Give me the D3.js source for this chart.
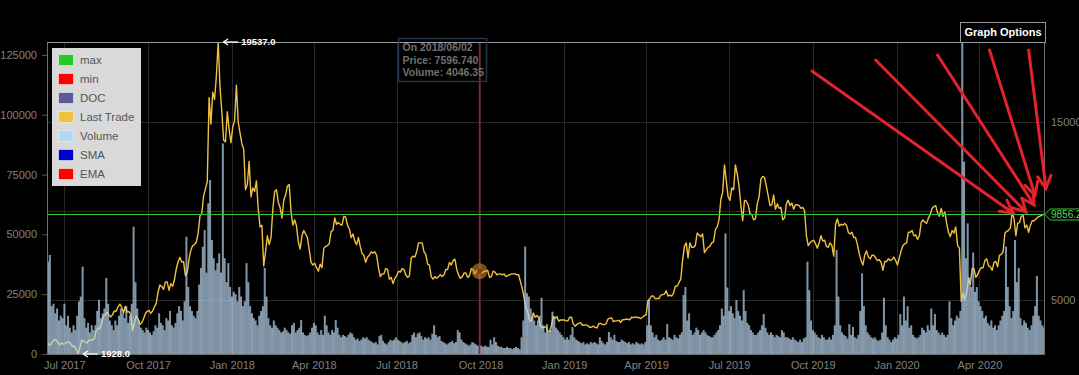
<!DOCTYPE html>
<html><head><meta charset="utf-8">
<script src="https://cdn.jsdelivr.net/npm/d3@7"></script>
<style>
html,body{margin:0;padding:0;background:#000;overflow:hidden}
svg{display:block;font-family:"Liberation Sans",Arial,sans-serif}
</style></head><body>
<svg id="chart" width="1079" height="375"></svg>
<script>
// ---- data (2-day samples from 2017-06-12) ----
const startDate = "2017-06-12";
const endDate = "2020-06-12";
const stepDays = 2;

const price2017 = [
 2650,2440,2450,2610,2750,2700,2580,2440,2560,2480, // Jun
 2500,2600,2610,2510,2350,2390,2200,1928,2260,2700,2650,2600,2550,2700,2700, // Jul
 2720,2780,3230,3390,3340,3650,4060,4160,4290,4130,4020,4150,4360,4340,4590,4740, // Aug
 4580,4240,4620,4300,4320,4170,3250,3690,4080,3900,3600,3680,3920,4200,4340, // Sep
 4390,4220,4360,4600,4780,5430,5820,5740,5580,6000,6000,5520,5900,5750,6130, // Oct
 6740,7150,7380,7120,7140,6350,6540,7290,7790,8050,8100,8250,8750,9720,9870, // Nov
 10850,11250,11650,16400,14900,16700,16300,17600,19537,17000,15600,14000,13900,15600,14600,13850 // Dec
];
const price2018 = [
 14750,15100,17100,15000,14400,13800,13500,11200,11500,12800,10800,11300,11100,11700,10100, // Jan
 9100,9200,6900,7700,8600,8100,8500,10100,11100,11200,10500,10200,9600,10600, // Feb
 10900,11400,11500,9950,9200,9500,9150,8250,7850,8600,8900,8700,8500,7800,7100,6950, // Mar
 7050,6800,6600,7000,6800,7900,8000,8050,8150,8850,8900,9600,9250,9350,9250, // Apr
 9200,9700,9650,9200,9000,8500,8700,8300,8100,8500,8000,7600,7500,7100,7400, // May
 7500,7700,7620,7700,7500,6800,6300,6450,6450,6750,6700,6150,6250,5900,6200, // Jun
 6350,6600,6550,6750,6700,6400,6250,6350,7350,7450,7400,7700,8200,8200,8200,7700, // Jul
 7550,7000,6950,6300,6150,6300,6200,6300,6400,6300,6400,6700,6700,7100,6950, // Aug
 7200,7280,6700,6400,6200,6280,6500,6500,6250,6350,6750,6700,6450,6650,6600, // Sep
 6600,6500,6600,6600,6650,6250,6300,6600,6550,6400,6450,6450,6400,6450,6300,6350, // Oct
 6400,6450,6450,6450,6400,6400,6000,5600,5100,4500,4300,3800,3800,4250,4000, // Nov
 4100,3950,3500,3400,3450,3450,3200,3200,3550,4050,3950,4050,3780,3850,3850 // Dec
];
const price2019 = [
 3850,3800,3800,4000,4000,3630,3500,3600,3650,3700,3550,3560,3570,3530,3430,3450, // Jan
 3500,3430,3400,3650,3650,3600,3580,3640,3900,3950,3970,3750,3800,3800, // Feb
 3830,3720,3860,3860,3900,3880,3860,4000,3980,4020,3990,3990,3930,4000,4100, // Mar
 4150,4950,5050,5200,5200,5050,5070,5050,5250,5280,5300,5500,5200,5250,5200, // Apr
 5350,5750,5750,5950,6150,7200,8000,8200,7350,8200,7950,7950,8050,8750,8650,8550, // May
 8700,7650,7800,7950,8000,8200,8250,8950,9100,9500,10650,11050,12600,11700,10800, // Jun
 10600,11300,11200,12600,12100,11400,10300,9450,10600,10550,10350,9850,9800,9500,9550, // Jul
 10400,10800,11800,11950,11900,11400,10850,10300,10350,10900,10100,10400,10150,10200,9500,9600, // Aug
 10400,10600,10300,10450,10100,10350,10350,10300,10150,10200,10000,8600,8050,8200,8300, // Sep
 8350,8150,7900,8200,8600,8300,8350,8000,7950,8200,8050,7450,9250,9550,9150, // Oct
 9250,9200,9300,9200,8800,8700,8800,8500,8500,8100,7600,7200,6950,7500,7750, // Nov
 7400,7300,7500,7500,7350,7200,7250,7100,6650,7150,7150,7300,7200,7250,7400,7200 // Dec
];
const price2020 = [
 6950,7350,7750,8050,8150,8200,8800,8800,8900,8600,8650,8400,8600,9350,9500, // Jan
 9380,9300,9600,9800,10150,10250,10300,9900,9700,10150,9700,9950,9300,8800,8550, // Feb
 8900,8750,9100,8050,7900,4900,5350,5000,5400,6200,5850,6750,6750,6250,6400, // Mar
 6650,6800,6800,7200,7300,6900,6850,6650,7100,7150,6850,7500,7550,7700,8750, // Apr
 8850,8900,9050,9950,9550,8600,9300,9350,9700,9750,9050,9200,8800,9200,9450,9450, // May
 9550,9650,9700,9750,9800,9856.2 // Jun
];

const vol2017 = [
 38600,41400,20000,21000,17000,19000,14000,16000,15000,21000,
 12000,16000,11000,9000,12000,10000,16000,22000,24000,36500,15000,11000,13000,9000,12000,
 10000,12000,18000,22600,15000,17000,19000,31800,21000,14000,12000,10000,14000,12000,16000,19000,
 17000,15000,20000,13000,16000,21000,53200,30000,19000,14000,11000,10000,9000,11000,10000,
 9000,8000,9500,12000,11000,17000,13000,12000,10000,15000,14000,18000,12000,11000,13000,
 17000,20000,18000,14000,22000,49000,28000,20000,18000,16000,15000,18000,29000,36000,44800,
 51800,34000,63000,72700,47600,40000,35000,38000,42000,34000,88000,40000,30000,38000,28000,24000
];
const vol2018 = [
 26000,25000,22000,28000,24000,20000,22000,38000,30000,20000,17000,15000,14000,12000,16000,
 18000,20000,36000,24000,15000,12000,11000,14000,12000,11000,10000,9000,9500,11000,
 10000,9000,8500,12000,13000,9000,10000,11000,14200,9000,8000,7500,8000,9000,11000,13000,
 12000,9000,8000,10000,8000,16000,12000,9000,8000,10000,9000,14200,11000,8000,7000,
 8000,7500,7000,8000,9000,8500,7000,6000,6500,5500,6000,7000,6500,7000,6000,
 5500,5000,4500,5000,4000,7500,8000,5500,4500,4000,5000,6000,5500,6000,7000,
 6000,5500,5000,4500,5000,5500,4500,5000,8000,9000,7000,8500,9000,7500,6000,7000,
 6500,7000,6000,8500,12000,8000,7000,7500,5500,5000,4500,4000,4500,5000,5500,
 4500,5000,10000,9000,6000,5000,4500,4000,3500,4000,5000,4500,4000,3500,3500,
 3500,3000,3500,3000,3000,6000,4000,7000,5000,3500,3000,3000,2500,2500,3000,2500,
 2500,2000,2500,3000,2500,2000,7000,14000,44900,25400,24000,19000,16000,14000,12000,
 14000,16000,23500,12000,9000,12500,9000,10000,17700,15600,11000,10000,9000,8000,7000
];
const vol2019 = [
 6000,7000,6000,8000,11300,7000,6000,5500,5000,4500,5000,4000,4500,4000,5000,4500,
 5000,4500,4000,7000,5500,4500,4000,5000,9200,7000,6000,8000,5500,5000,
 5000,6000,5500,5000,4500,5000,4000,4500,4000,5000,4500,4000,4500,4000,5000,
 12000,22600,12000,9000,7000,8000,6000,5500,6000,7000,6000,12500,7000,6500,6000,
 8000,7000,6500,8000,9000,24700,28000,14000,17000,10000,8000,9000,11000,10000,8000,9000,
 10000,9000,8000,7500,7000,7000,8000,9000,10000,12000,19000,16000,50400,27800,18000,
 20000,17000,15000,22600,18000,16000,14000,26700,18000,13000,12000,10000,9000,8000,8000,
 9000,10000,12000,16700,11000,9000,8000,9000,8000,7000,8000,7500,7000,10000,9000,7000,
 7000,6500,6000,7000,6000,5500,5000,6000,5000,6500,7000,38600,26700,14000,10000,
 9000,8000,7000,6500,8000,7000,6000,6000,7000,6000,8000,12000,43500,24000,12000,
 9000,8000,7500,6500,12500,8000,11300,7000,6500,8000,18000,33700,20000,12000,9000,
 8000,7000,6500,7000,6000,5500,6000,9000,23500,12000,7000,6000,5000,6000,7000,6500
];
const vol2020 = [
 8000,16700,12000,24000,14000,20000,11000,12000,8000,7000,6500,7000,8000,11000,10000,
 9000,12000,10000,19000,12000,16700,10000,9000,8000,9000,8000,7000,8000,22000,15000,
 12000,14000,16000,15000,18000,130400,80400,40000,54600,32000,28000,42400,26000,28000,22000,
 20000,18000,15000,16000,13000,12000,14000,11000,12000,10000,12000,14000,16000,18000,44900,
 28000,20000,15000,18000,47600,30000,36000,15000,12000,14000,13000,11000,10000,12000,16000,20000,
 32600,16000,14000,12000,11000,10000
];

const volumeTicks = [0, 25000, 50000, 75000, 100000, 125000];
const priceTicks = [5000, 10000, 15000];
const priceTickLabels = [5000, 15000]; // 10000 sits under the last-price tag
const legendNames = ["max", "min", "DOC", "Last Trade", "Volume", "SMA", "EMA"];
const legendColors = ["#22cc22", "#ff0000", "#5b5b99", "#f0c040", "#b3d8f2", "#0000cc", "#ff0000"];
const hoverDate = "2018-09-30";
const tooltipLines = ["On 2018/06/02", "Price: 7596.740", "Volume: 4046.35"];
// hand-drawn red arrows: [fromDate, fromPrice, toDate, toPrice]
const redArrows = [
 ["2019-09-30", 17900, "2020-05-08", 9890],
 ["2019-12-09", 18520, "2020-05-22", 9950],
 ["2020-02-15", 18800, "2020-05-31", 10340],
 ["2020-04-12", 19090, "2020-06-01", 10900],
 ["2020-05-25", 19090, "2020-06-13", 11280]
];

// ---- build ----
const svg = d3.select("#chart");
const W = 1079, H = 375;
const P = {left: 47, right: 1045, top: 42, bottom: 354};
const parse = d3.utcParse("%Y-%m-%d");
const t0 = parse(startDate), t1 = parse(endDate);
const prices = [].concat(price2017, price2018, price2019, price2020);
const volumes = [].concat(vol2017, vol2018, vol2019, vol2020);
const data = prices.map((p, i) => ({date: d3.utcDay.offset(t0, i * stepDays), price: p, volume: volumes[i]}));

const x = d3.scaleUtc().domain([t0, t1]).range([P.left, P.right]);
const yP = d3.scaleLinear().domain(d3.extent(prices)).range([P.bottom, P.top]);
const yV = d3.scaleLinear().domain([0, d3.max(volumes)]).range([P.bottom, P.top]);

svg.append("rect").attr("width", W).attr("height", H).attr("fill", "#000");
svg.append("defs").append("clipPath").attr("id", "clip")
  .append("rect").attr("x", P.left).attr("y", P.top).attr("width", P.right - P.left).attr("height", P.bottom - P.top);

// grid
const monthTicks = x.ticks(d3.utcMonth.every(3));
const grid = svg.append("g").attr("stroke", "#272727").attr("stroke-width", 1);
grid.selectAll("line.v").data(monthTicks).join("line")
  .attr("x1", d => Math.round(x(d)) + 0.5).attr("x2", d => Math.round(x(d)) + 0.5)
  .attr("y1", P.top).attr("y2", P.bottom);
grid.selectAll("line.h").data(priceTicks).join("line")
  .attr("x1", P.left).attr("x2", P.right)
  .attr("y1", d => Math.round(yP(d)) + 0.5).attr("y2", d => Math.round(yP(d)) + 0.5);

const plotG = svg.append("g").attr("clip-path", "url(#clip)");

// price line
plotG.append("path").datum(data)
  .attr("fill", "none").attr("stroke", "#f0c040").attr("stroke-width", 1.4)
  .attr("stroke-linejoin", "round")
  .attr("d", d3.line().x(d => x(d.date)).y(d => yP(d.price)));

// volume bars
plotG.append("g").selectAll("rect").data(data).join("rect")
  .attr("x", d => x(d.date))
  .attr("width", d => x(d3.utcDay.offset(d.date, stepDays)) - x(d.date) + 0.2)
  .attr("y", d => yV(d.volume))
  .attr("height", d => P.bottom - yV(d.volume))
  .attr("fill", "#b8d4ec").attr("fill-opacity", 0.7);

// last price line
const last = data[data.length - 1];
const ly = Math.round(yP(last.price)) + 0.5;
svg.append("line").attr("x1", P.left).attr("x2", P.right)
  .attr("y1", ly).attr("y2", ly)
  .attr("stroke", "#36c436").attr("stroke-width", 1.2);

// hover marker
const hd = parse(hoverDate);
const hpt = data.reduce((a, b) => Math.abs(b.date - hd) < Math.abs(a.date - hd) ? b : a);
const hx = x(hd);
plotG.append("line").attr("x1", hx).attr("x2", hx).attr("y1", P.top).attr("y2", P.bottom)
  .attr("stroke", "#a01c1c").attr("stroke-width", 1.5);
plotG.append("circle").attr("cx", hx).attr("cy", yP(hpt.price)).attr("r", 8)
  .attr("fill", "#c9952e").attr("fill-opacity", 0.55);
plotG.append("circle").attr("cx", hx).attr("cy", yP(hpt.price)).attr("r", 2.5)
  .attr("fill", "#a02a14");

// frame
svg.append("rect").attr("x", P.left + 0.5).attr("y", P.top + 0.5)
  .attr("width", P.right - P.left - 1).attr("height", P.bottom - P.top)
  .attr("fill", "none").attr("stroke", "#6f6f6f");
svg.append("line").attr("x1", P.left).attr("x2", P.right).attr("y1", P.top + 0.5).attr("y2", P.top + 0.5)
  .attr("stroke", "#9a9a9a");

// axes
const axL = svg.append("g").attr("transform", `translate(${P.left},0)`)
  .call(d3.axisLeft(yV).tickValues(volumeTicks).tickFormat(d3.format("d")).tickSize(5).tickPadding(5));
const axR = svg.append("g").attr("transform", `translate(${P.right},0)`)
  .call(d3.axisRight(yP).tickValues(priceTickLabels).tickFormat(d3.format("d")).tickSize(0).tickPadding(6));
const axB = svg.append("g").attr("transform", `translate(0,${P.bottom})`)
  .call(d3.axisBottom(x).ticks(d3.utcMonth.every(3)).tickFormat(d3.utcFormat("%b %Y")).tickSize(0).tickPadding(7));
[axL, axR, axB].forEach(a => {
  a.select(".domain").remove();
  a.selectAll("text").attr("fill", "#808080").attr("font-size", 11).attr("font-family", "Liberation Sans, Arial, sans-serif");
  a.selectAll("line").attr("stroke", "#555");
});

// min / max annotations
function annot(pt) {
  const px = x(pt.date), py = yP(pt.price);
  const g = svg.append("g").attr("fill", "#fff").attr("stroke", "#fff");
  g.append("line").attr("x1", px + 6).attr("x2", px + 20).attr("y1", py).attr("y2", py).attr("stroke-width", 1.3);
  g.append("path").attr("d", `M${px + 5},${py} l5,-3 M${px + 5},${py} l5,3`).attr("stroke-width", 1.3).attr("fill", "none");
  g.append("text").attr("x", px + 23).attr("y", py).attr("dy", "0.36em").attr("stroke", "none")
    .attr("font-size", 9.5).attr("font-weight", "bold").text(d3.format(".1f")(pt.price));
}
annot(data[d3.maxIndex(data, d => d.price)]);
annot(data[d3.minIndex(data, d => d.price)]);

// last price tag
svg.append("path")
  .attr("d", `M${P.right},${ly} L${P.right + 5},${ly - 5.5} L${P.right + 45},${ly - 5.5} L${P.right + 45},${ly + 5.5} L${P.right + 5},${ly + 5.5} Z`)
  .attr("fill", "#000").attr("stroke", "#36c436").attr("stroke-width", 1);
svg.append("text").attr("x", P.right + 6).attr("y", ly).attr("dy", "0.36em")
  .attr("fill", "#55dd55").attr("font-size", 10).text(d3.format(".1f")(last.price));

// legend
const lg = svg.append("g");
lg.append("rect").attr("x", 52).attr("y", 48).attr("width", 89).attr("height", 138).attr("fill", "#d9d9d9");
legendNames.forEach((n, i) => {
  const cy = 60 + i * 19;
  lg.append("rect").attr("x", 58.5).attr("y", cy - 5.5).attr("width", 15).attr("height", 11)
    .attr("fill", legendColors[i]).attr("stroke", "#f2f2f2").attr("stroke-opacity", 0.6);
  lg.append("text").attr("x", 80).attr("y", cy).attr("dy", "0.36em").attr("fill", "#555")
    .attr("font-size", 11.5).text(n);
});

// tooltip
const tg = svg.append("g");
tg.append("rect").attr("x", hx - 81).attr("y", 38.5).attr("width", 88).attr("height", 43)
  .attr("fill", "none").attr("stroke", "#22354a").attr("stroke-width", 1.5);
tooltipLines.forEach((t, i) => {
  tg.append("text").attr("x", hx - 77).attr("y", 47.5 + i * 12.5).attr("dy", "0.36em")
    .attr("fill", "#707070").attr("font-size", 10.5).attr("font-weight", "bold").text(t);
});

// graph options button
svg.append("rect").attr("x", 960.5).attr("y", 22.5).attr("width", 85).attr("height", 20)
  .attr("fill", "#000").attr("stroke", "#9a9a9a");
svg.append("text").attr("x", 1003).attr("y", 32).attr("dy", "0.36em").attr("text-anchor", "middle")
  .attr("fill", "#fff").attr("font-size", 11).attr("font-weight", "bold").text("Graph Options");

// red hand-drawn arrows
const ag = svg.append("g").attr("stroke", "#e3232b").attr("stroke-width", 3).attr("fill", "none")
  .attr("stroke-linecap", "round");
redArrows.forEach(a => {
  const x1 = x(parse(a[0])), y1 = yP(a[1]), x2 = x(parse(a[2])), y2 = yP(a[3]);
  const ang = Math.atan2(y2 - y1, x2 - x1), L = 14, s = 0.5;
  ag.append("line").attr("x1", x1).attr("y1", y1).attr("x2", x2).attr("y2", y2);
  ag.append("path").attr("d",
    `M${x2 - L * Math.cos(ang - s)},${y2 - L * Math.sin(ang - s)} L${x2},${y2} L${x2 - L * Math.cos(ang + s)},${y2 - L * Math.sin(ang + s)}`);
});
</script>
</body></html>
